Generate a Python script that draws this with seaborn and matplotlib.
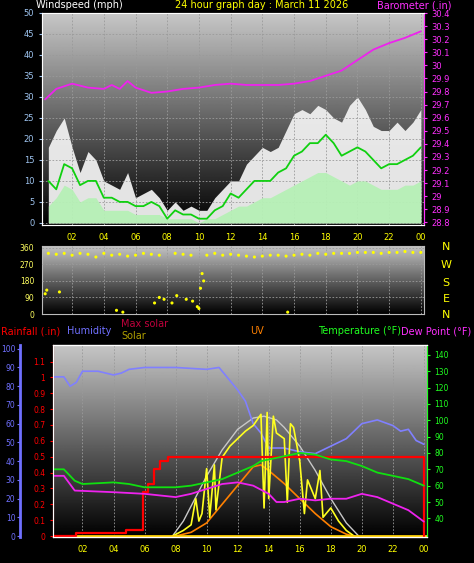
import numpy as np
import pandas as pd
import matplotlib
matplotlib.use("Agg")
import matplotlib.pyplot as plt
import seaborn as sns

sns.set_style("dark")
plt.rcParams['font.family'] = ['DejaVu Sans']

# ---------------- data ----------------
wind_hours = [i * 0.5 for i in range(1, 49)]
wind_gust = [18, 22, 25, 18, 12, 17, 15, 10, 9, 8, 12, 6, 7, 8, 6, 3, 5, 3, 4, 3, 3, 6, 8, 10,
             10, 14, 16, 18, 17, 18, 22, 26, 27, 26, 28, 27, 25, 24, 28, 30, 27, 23, 22, 22, 24, 22, 24, 27]
wind_avg = [10, 8, 14, 13, 9, 10, 10, 6, 6, 5, 5, 4, 4, 5, 4, 1, 3, 2, 2, 1, 1, 3, 4, 7,
            6, 8, 10, 10, 10, 12, 13, 16, 17, 19, 19, 21, 19, 16, 17, 18, 17, 15, 13, 14, 14, 15, 16, 18]
wind_speed = [4, 6, 9, 8, 5, 6, 6, 3, 3, 3, 3, 2, 2, 2, 2, 1, 1, 1, 1, 0, 1, 1, 2, 3,
              4, 4, 5, 6, 6, 7, 8, 9, 10, 11, 12, 12, 11, 10, 9, 10, 10, 9, 8, 8, 8, 9, 9, 10]
baro_hours = [0.3, 1, 2, 3, 4, 4.5, 5, 5.5, 6, 7, 8, 9, 10, 11, 12, 13, 14, 15, 16, 17, 18, 19, 20, 21, 22, 23, 24]
baro = [29.74, 29.82, 29.86, 29.83, 29.82, 29.85, 29.82, 29.88, 29.83, 29.79, 29.80, 29.82, 29.83,
        29.85, 29.86, 29.85, 29.85, 29.85, 29.86, 29.88, 29.92, 29.96, 30.04, 30.12, 30.17, 30.21, 30.26]

dir_hours = [0.3, 0.5, 1, 1.5, 2, 2.5, 3, 3.5, 4, 4.5, 5, 5.5, 6, 6.5, 7, 7.5, 8.5, 9, 9.5, 10.5, 11, 11.5,
             12, 12.5, 13, 13.5, 14, 14.5, 15, 15.5, 16, 16.5, 17, 17.5, 18, 18.5, 19, 19.5, 20, 20.5,
             21, 21.5, 22, 22.5, 23, 23.5, 24,
             0.4, 1.2, 4.8, 5.2, 7.2, 7.5, 7.8, 8.3, 8.6, 9.2, 9.6, 9.9, 10.1, 10.3, 10.2, 15.6, 10.0]
wind_dir = [110, 330, 325, 330, 320, 330, 325, 310, 330, 320, 325, 315, 320, 330, 325, 320, 330, 325, 320, 320,
            330, 320, 325, 320, 315, 310, 315, 320, 320, 315, 320, 325, 320, 330, 325, 330, 330, 330, 335, 335,
            335, 330, 335, 335, 340, 335, 335,
            130, 120, 20, 10, 60, 90, 80, 60, 100, 80, 70, 40, 140, 180, 220, 10, 30]

hum_hours = [0, 0.8, 1.2, 1.6, 2, 3, 4, 4.5, 5, 6, 8, 10, 10.8, 11.5, 12, 12.5, 13, 13.5, 14, 15, 16, 17,
             18, 19, 20, 21, 22, 22.5, 23, 23.5, 24]
humidity = [85, 85, 80, 82, 88, 88, 86, 87, 89, 90, 90, 89, 90, 83, 78, 72, 60, 55, 47, 47, 45, 44,
            48, 52, 60, 62, 59, 56, 57, 51, 49]
temp_hours = [0, 0.8, 1.5, 2, 4, 5, 6, 8, 9, 10, 11, 12, 13, 13.5, 14, 15, 16, 17, 18, 19, 20, 21, 22, 23, 24]
temperature = [70, 70, 63, 61, 62, 61, 59, 59, 60, 62, 64, 68, 72, 75, 76, 78, 80, 79, 76, 75, 72, 68, 66, 64, 60]
dew_hours = [0, 0.8, 1.5, 4, 6, 8, 9, 10, 11, 12, 13, 14, 14.5, 15, 16, 17, 18, 19, 20, 21, 22, 23, 24]
dewpoint = [66, 66, 57, 56, 55, 53, 55, 58, 61, 62, 60, 55, 50, 50, 52, 51, 52, 52, 55, 53, 49, 45, 38]
rain_hours = [0, 1.5, 1.6, 4.7, 4.8, 5.7, 5.9, 6.2, 6.6, 7, 7.5, 23.9, 24]
rainfall = [0, 0, 0.02, 0.02, 0.04, 0.04, 0.28, 0.33, 0.42, 0.47, 0.50, 0.50, 0]
maxsolar_hours = [7.8, 8.5, 9, 10, 11, 12, 13, 13.7, 14.5, 15, 16, 17, 18, 19, 19.8]
maxsolar = [0, 8, 16, 32, 46, 57, 63, 64, 62, 58, 48, 35, 20, 7, 0]
solar_hours = [7.8, 8.5, 9, 9.3, 9.5, 9.7, 10, 10.2, 10.5, 10.6, 11, 11.5, 12, 12.5, 13, 13.5, 13.7, 13.9, 14,
               14.3, 14.5, 15, 15.2, 15.4, 15.6, 16, 16.3, 16.5, 17, 17.3, 17.5, 18, 18.5, 19, 19.5]
solar = [0, 3, 6, 20, 8, 12, 36, 10, 38, 14, 42, 48, 52, 56, 59, 65, 15, 66, 20, 64, 55, 52, 18, 60, 58, 40,
         12, 30, 20, 35, 10, 15, 8, 3, 0]
uv_hours = [8, 9, 10, 11, 12, 13, 13.5, 14, 15, 16, 17, 18, 19, 19.5]
uv = [0, 2, 7, 17, 27, 37, 38, 35, 28, 20, 12, 5, 1, 0]

xticks = [2, 4, 6, 8, 10, 12, 14, 16, 18, 20, 22, 24]
xlabels = ["02", "04", "06", "08", "10", "12", "14", "16", "18", "20", "22", "00"]
hum_ticks = [0, 10, 20, 30, 40, 50, 60, 70, 80, 90, 100]

# ---------------- figure ----------------
W, H = 474, 563
fig = plt.figure(figsize=(W / 100, H / 100), dpi=100, facecolor="black")

def rect(x0, y0, x1, y1):
    return [x0 / W, 1 - y1 / H, (x1 - x0) / W, (y1 - y0) / H]

grad = np.linspace(0.78, 0.0, 256).reshape(-1, 1)

def style(ax, xlim, ylim):
    ax.set_xlim(*xlim)
    ax.set_ylim(*ylim)
    ax.imshow(grad, cmap="gray", vmin=0, vmax=1, aspect="auto",
              extent=[xlim[0], xlim[1], ylim[0], ylim[1]], zorder=0)
    ax.set_xticks(xticks)
    ax.set_xticklabels(xlabels, color="yellow", fontsize=6)
    ax.grid(True, color="#9a9a9a", linestyle=(0, (2, 2)), linewidth=0.6)
    ax.set_axisbelow(False)
    for s in ax.spines.values():
        s.set_color("#bbbbbb")
    ax.tick_params(length=2, color="#bbbbbb")

XL = (0.1, 24.2)

# ---- top panel ----
ax1 = fig.add_axes(rect(42, 13, 424, 225))
style(ax1, XL, (-0.5, 50))
ax1.set_yticks(range(0, 51, 5))
ax1.tick_params(axis="y", colors="#9ec4f0", labelsize=6)
ax1.tick_params(axis="x", colors="#bbbbbb")
for t in ax1.get_xticklabels():
    t.set_color("yellow")
ax1.fill_between(wind_hours, 0, wind_gust, color="#f0f0f0", alpha=0.95, zorder=2, linewidth=0)
ax1.fill_between(wind_hours, 0, wind_speed, color="#b6f0b6", alpha=0.95, zorder=3, linewidth=0)
sns.lineplot(x=wind_hours, y=wind_avg, ax=ax1, color="#10d010", linewidth=1.3, zorder=4)
ax1b = ax1.twinx()
ax1b.set_ylim(28.78, 30.4)
ax1b.set_yticks([28.8, 28.9, 29.0, 29.1, 29.2, 29.3, 29.4, 29.5, 29.6, 29.7, 29.8, 29.9, 30.0, 30.1, 30.2, 30.3, 30.4])
ax1b.set_yticklabels(["28.8", "28.9", "29", "29.1", "29.2", "29.3", "29.4", "29.5", "29.6", "29.7", "29.8",
                      "29.9", "30", "30.1", "30.2", "30.3", "30.4"])
ax1b.tick_params(axis="y", colors="#ff30ff", labelsize=6, length=2)
ax1b.spines["right"].set_color("#ff30ff")
sns.lineplot(x=baro_hours, y=baro, ax=ax1b, color="#ee22ee", linewidth=1.3)
ax1b.set_ylabel("")
fig.text(36 / W, 1 - 5 / H, "Windspeed (mph)", color="white", fontsize=7, va="center")
fig.text(175 / W, 1 - 5 / H, "24 hour graph day : March 11 2026", color="yellow", fontsize=7, va="center")
fig.text(377 / W, 1 - 5 / H, "Barometer (.in)", color="#ff30ff", fontsize=7, va="center")

# ---- wind direction panel ----
ax2 = fig.add_axes(rect(42, 246, 424, 314))
style(ax2, XL, (0, 370))
ax2.set_yticks([0, 90, 180, 270, 360])
ax2.tick_params(axis="y", colors="#ffff60", labelsize=5.5)
ax2.set_xticklabels([])
sns.scatterplot(x=dir_hours, y=wind_dir, ax=ax2, color="yellow", s=5, edgecolor="none", zorder=3)
for lab, yy in zip(["N", "W", "S", "E", "N"], [247, 265, 283, 299, 315]):
    fig.text(446 / W, 1 - yy / H, lab, color="yellow", fontsize=8, va="center", ha="center")

# ---- bottom panel ----
ax3 = fig.add_axes(rect(53, 345, 427, 537))
style(ax3, XL, (-0.5, 102))
ax3.set_yticks([])
ax3.tick_params(axis="x", colors="#bbbbbb")
for t in ax3.get_xticklabels():
    t.set_color("yellow")
axh = ax3.twinx()
axh.set_ylim(-0.5, 102)
axh.yaxis.set_ticks_position("left")
axh.spines["left"].set_position(("outward", 24))
axh.spines["left"].set_color("#7070ff")
axh.spines["left"].set_linewidth(2)
axh.spines["right"].set_visible(False)
axh.set_yticks(hum_ticks)
axh.set_yticklabels([str(v) for v in hum_ticks])
axh.tick_params(axis="y", colors="#7070ff", labelsize=5.5, length=2, pad=1)
axr = ax3.twinx()
axr.set_ylim(-0.006, 1.204)
axr.yaxis.set_ticks_position("left")
axr.spines["left"].set_color("red")
axr.spines["left"].set_linestyle((0, (1, 1)))
axr.spines["right"].set_visible(False)
axr.set_yticks([0, 0.1, 0.2, 0.3, 0.4, 0.5, 0.6, 0.7, 0.8, 0.9, 1.0, 1.1])
axr.set_yticklabels(["0", "0.1", "0.2", "0.3", "0.4", "0.5", "0.6", "0.7", "0.8", "0.9", "1", "1.1"])
axr.tick_params(axis="y", colors="red", labelsize=5.5, length=2)
axt = ax3.twinx()
axt.set_ylim(28.6, 146)
axt.set_yticks(range(40, 141, 10))
axt.tick_params(axis="y", colors="#20ff20", labelsize=5.5, length=2)
axt.spines["right"].set_color("#20ff20")

sns.lineplot(x=maxsolar_hours, y=maxsolar, ax=axh, color="#c8c8c8", linewidth=1.0)
sns.lineplot(x=hum_hours, y=humidity, ax=axh, color="#8080ff", linewidth=1.2)
sns.lineplot(x=uv_hours, y=uv, ax=axh, color="#ff8000", linewidth=1.2)
sns.lineplot(x=solar_hours, y=solar, ax=axh, color="#ffff20", linewidth=1.2)
axh.axhline(0, color="#ffd000", linewidth=2)
sns.lineplot(x=temp_hours, y=temperature, ax=axt, color="#10e010", linewidth=1.3)
sns.lineplot(x=dew_hours, y=dewpoint, ax=axt, color="#ee22ee", linewidth=1.3)
sns.lineplot(x=rain_hours, y=rainfall, ax=axr, color="red", linewidth=1.6, drawstyle="steps-post")
for a in (axh, axr, axt):
    a.set_ylabel("")
    a.grid(False)

fig.text(1 / W, 1 - 331 / H, "Rainfall (.in)", color="red", fontsize=7, va="center")
fig.text(67 / W, 1 - 331 / H, "Humidity", color="#7070ff", fontsize=7, va="center")
fig.text(121 / W, 1 - 324 / H, "Max solar", color="#c0003c", fontsize=7, va="center")
fig.text(121 / W, 1 - 336 / H, "Solar", color="#b0a000", fontsize=7, va="center")
fig.text(250 / W, 1 - 331 / H, "UV", color="#ff8000", fontsize=7, va="center")
fig.text(318 / W, 1 - 331 / H, "Temperature (°F)", color="#20ff20", fontsize=7, va="center")
fig.text(401 / W, 1 - 331 / H, "Dew Point (°F)", color="#ff30ff", fontsize=7, va="center")

fig.savefig("out.png", dpi=100, facecolor="black")
